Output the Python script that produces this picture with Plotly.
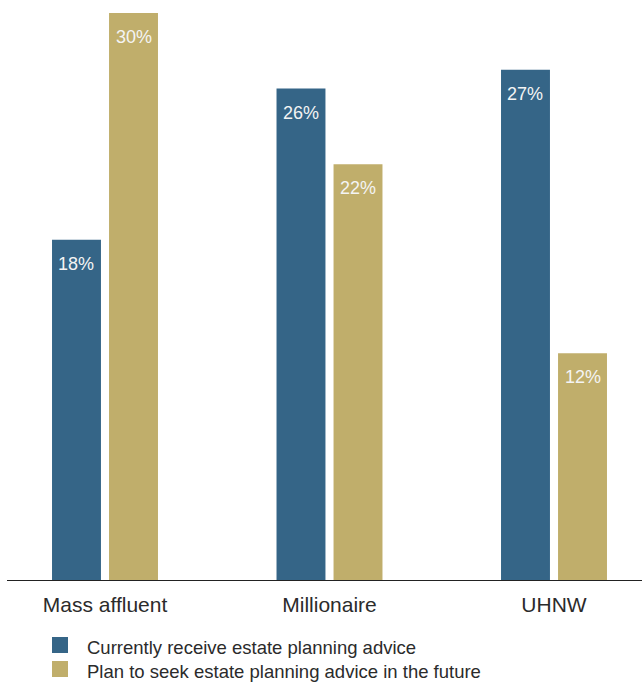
import plotly.graph_objects as go

categories = ["Mass affluent", "Millionaire", "UHNW"]
series_names = ["Currently receive estate planning advice",
                "Plan to seek estate planning advice in the future"]
current_vals = [18, 26, 27]
future_vals = [30, 22, 12]
colors = ["#356587", "#C0AE6B"]

FONT = "Liberation Sans, Arial, sans-serif"
TEXT_COLOR = "#2b2b2b"

W, H = 642, 682
ML, MR, MT, MB = 7, 0, 13, 102
pw = W - ML - MR
ph = H - MT - MB

x_pos = list(range(len(categories)))
bar_w = 0.218
shift = 0.127

fig = go.Figure()
for vals, col, name, sgn in [(current_vals, colors[0], series_names[0], -1),
                             (future_vals, colors[1], series_names[1], 1)]:
    fig.add_trace(go.Bar(
        x=x_pos, y=vals, name=name, marker_color=col, marker_line_width=0,
        width=bar_w, offset=sgn * shift - bar_w / 2, showlegend=False,
        hoverinfo="y"))
    for xi, v in zip(x_pos, vals):
        fig.add_annotation(x=xi + sgn * shift, y=v, xref="x", yref="y",
                           text=f"{v}%", showarrow=False, yanchor="middle",
                           yshift=-24,
                           font=dict(family=FONT, size=18, color="#f4f4f4"))

# manual legend (coordinates in window pixels)
def px_to_paper_x(px):
    return (px - ML) / pw

def px_to_paper_y(py):
    return (H - MB - py) / ph

for i, (name, col) in enumerate(zip(series_names, colors)):
    top = 637 + 24 * i
    fig.add_shape(type="rect", xref="paper", yref="paper",
                  x0=px_to_paper_x(52), x1=px_to_paper_x(68),
                  y0=px_to_paper_y(top + 16), y1=px_to_paper_y(top),
                  fillcolor=col, line_width=0)
    fig.add_annotation(xref="paper", yref="paper",
                       x=px_to_paper_x(85), y=px_to_paper_y(top + 10),
                       text=name, showarrow=False, xanchor="left",
                       yanchor="middle",
                       font=dict(family=FONT, size=18.5, color=TEXT_COLOR))

center0 = 105
scale = 224.5
x_left = (ML - center0) / scale
x_right = (W - MR - center0) / scale

fig.update_layout(
    width=W, height=H,
    margin=dict(l=ML, r=MR, t=MT, b=MB),
    paper_bgcolor="white", plot_bgcolor="white",
    showlegend=False,
    xaxis=dict(range=[x_left, x_right], tickvals=x_pos, ticktext=categories,
               showgrid=False, zeroline=False, showline=True,
               linecolor="#222", linewidth=1, ticks="",
               ticklabelstandoff=6,
               tickfont=dict(family=FONT, size=21, color=TEXT_COLOR)),
    yaxis=dict(range=[0, 30], visible=False, showgrid=False, zeroline=False),
)

fig.write_html("out.html",
               config={"displayModeBar": False},
               post_script="document.body.style.margin='0';"
                           "document.body.style.overflow='hidden';")
